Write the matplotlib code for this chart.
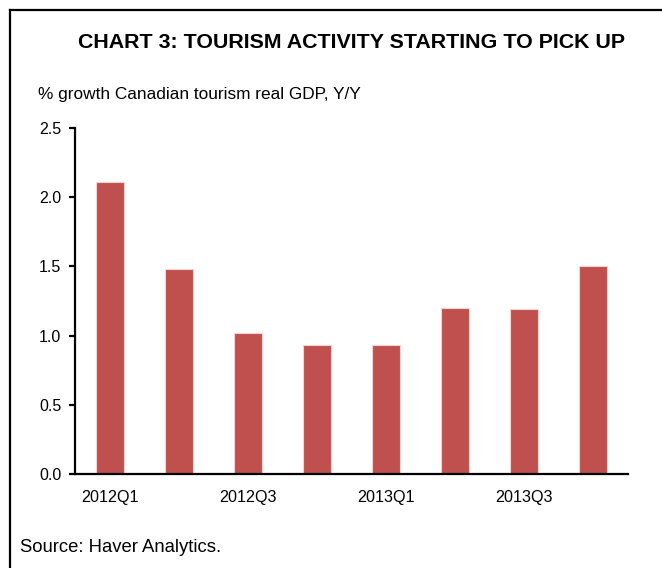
import matplotlib
matplotlib.use("Agg")
import matplotlib.pyplot as plt
from matplotlib.lines import Line2D

plt.rcParams['font.family'] = ['Liberation Sans', 'DejaVu Sans']

categories = ["2012Q1", "2012Q2", "2012Q3", "2012Q4", "2013Q1", "2013Q2", "2013Q3", "2013Q4"]
values = [2.11, 1.485, 1.02, 0.93, 0.93, 1.20, 1.19, 1.50]
shown_labels = ["2012Q1", "2012Q3", "2013Q1", "2013Q3"]
yticks = [0.0, 0.5, 1.0, 1.5, 2.0, 2.5]

title = "CHART 3: TOURISM ACTIVITY STARTING TO PICK UP"
subtitle = "% growth Canadian tourism real GDP, Y/Y"
source = "Source: Haver Analytics."

fig = plt.figure(figsize=(6.62, 5.68), dpi=100)
ax = fig.add_axes([0.1137, 0.166, 0.8345, 0.6081])

x = list(range(len(categories)))
ax.bar(x, values, width=0.4, color="#C0504D", edgecolor="#F2D3D2", linewidth=0.8)

ax.set_xlim(-0.5, len(categories) - 0.5)
ax.set_ylim(0, 2.5)
ax.set_yticks(yticks)
ax.set_yticklabels([f"{t:.1f}" for t in yticks])
ax.set_xticks([categories.index(c) for c in shown_labels])
ax.set_xticklabels(shown_labels)

for s in ["top", "right"]:
    ax.spines[s].set_visible(False)
ax.spines["left"].set_linewidth(1.6)
ax.spines["bottom"].set_linewidth(1.6)
ax.tick_params(axis="y", direction="out", length=4, width=1.6, labelsize=11.5, pad=6)
ax.tick_params(axis="x", length=0, labelsize=11.6, pad=12)

fig.text(351 / 662, 1 - 42 / 568, title, ha="center", va="center", fontsize=15.4, fontweight="bold")
fig.text(38 / 662, 1 - 95 / 568, subtitle, ha="left", va="center", fontsize=12.4)
fig.text(20 / 662, 1 - 547 / 568, source, ha="left", va="center", fontsize=13.3)

# frame lines (top and left)
fig.add_artist(Line2D([10 / 662, 1.0], [1 - 10 / 568, 1 - 10 / 568], transform=fig.transFigure,
                      color="black", linewidth=1.6, solid_capstyle="projecting"))
fig.add_artist(Line2D([10 / 662, 10 / 662], [1 - 10 / 568, 0.0], transform=fig.transFigure,
                      color="black", linewidth=1.6, solid_capstyle="projecting"))

fig.savefig("out.png", dpi=100)
